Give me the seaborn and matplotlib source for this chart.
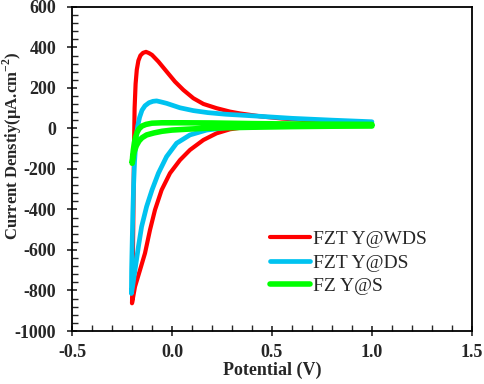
import numpy as np
import pandas as pd
import matplotlib.pyplot as plt
from matplotlib.ticker import MultipleLocator, FuncFormatter
import seaborn as sns

sns.set_style("ticks")
plt.rcParams["font.family"] = ["Liberation Serif", "DejaVu Serif"]
plt.rcParams["axes.unicode_minus"] = False
plt.rcParams["mathtext.fontset"] = "custom"
plt.rcParams["mathtext.rm"] = "Liberation Serif"
plt.rcParams["mathtext.bf"] = "Liberation Serif:bold"

LABELS = ["FZT Y@WDS", "FZT Y@DS", "FZ Y@S"]
COLOURS = ["#FF0000", "#00C3F0", "#00FF00"]

# closed CV loops: cathodic branch (1.0 -> -0.2) then anodic branch back to 1.0
wds_potential = [1.0, 0.8, 0.6, 0.45, 0.34, 0.29, 0.223, 0.157, 0.09, 0.04, -0.01, -0.052, -0.085,
                 -0.11, -0.135, -0.16, -0.185, -0.20,
                 -0.198, -0.196, -0.194, -0.192, -0.19, -0.187, -0.182, -0.176, -0.168, -0.158,
                 -0.145, -0.13, -0.115, -0.10, -0.068, -0.027, 0.015, 0.057, 0.107, 0.157, 0.223,
                 0.29, 0.34, 0.44, 0.55, 0.7, 0.85, 1.0]
wds_current = [16, 14, 12, 8, 3, -4, -24, -57, -106, -156, -221, -304, -402,
               -501, -616, -699, -781, -863,
               -780, -650, -500, -300, -100, 100, 220, 290, 335, 360,
               373, 378, 372, 363, 330, 281, 231, 190, 149, 121, 100,
               83, 74, 60, 49, 39, 32, 27]

ds_potential = [1.0, 0.8, 0.6, 0.4, 0.273, 0.173, 0.09, 0.023, -0.027, -0.068, -0.10, -0.127,
                -0.152, -0.168, -0.185, -0.197, -0.203,
                -0.202, -0.199, -0.196, -0.192, -0.187, -0.18, -0.172, -0.162, -0.15, -0.135,
                -0.115, -0.095, -0.077, -0.055, -0.027, 0.04, 0.107, 0.18, 0.27, 0.34, 0.44,
                0.6, 0.8, 1.0]
ds_current = [18, 15, 12, 8, 4, -8, -32, -73, -139, -221, -304, -386,
              -485, -584, -699, -780, -815,
              -700, -560, -420, -280, -160, -60, 10, 55, 90, 112,
              127, 134, 136, 131, 124, 102, 88, 78, 70, 66, 60,
              50, 41, 33]

s_potential = [1.0, 0.8, 0.6, 0.4, 0.25, 0.15, 0.07, 0.0, -0.05, -0.09, -0.127, -0.15, -0.165,
               -0.178, -0.188, -0.195, -0.199,
               -0.197, -0.193, -0.188, -0.182, -0.175, -0.165, -0.15, -0.13, -0.1, -0.05, 0.05,
               0.2, 0.4, 0.6, 0.8, 1.0]
s_current = [12, 11, 9, 6, 3, 0, -4, -8, -14, -22, -32, -46, -62,
             -85, -112, -140, -172,
             -140, -105, -70, -42, -20, -2, 12, 20, 26, 28, 28,
             27, 24, 22, 21, 20]

frames = []
for name, pot, cur in zip(LABELS, [wds_potential, ds_potential, s_potential],
                          [wds_current, ds_current, s_current]):
    frames.append(pd.DataFrame({"Potential": pot, "Current": cur, "Sample": name}))
df = pd.concat(frames, ignore_index=True)

fig = plt.figure(figsize=(4.84, 3.84), dpi=100)
ax = fig.add_axes([0.1488, 0.138, 0.8262, 0.844])

for name, col, lw in zip(LABELS, COLOURS, [3.0, 3.4, 4.0]):
    sub = df[df["Sample"] == name]
    sns.lineplot(data=sub, x="Potential", y="Current", sort=False, estimator=None,
                 color=col, lw=lw, label=name, ax=ax, solid_joinstyle="round")

ax.set_xlim(-0.5, 1.5)
ax.set_ylim(-1000, 600)
ax.xaxis.set_major_locator(MultipleLocator(0.5))
ax.xaxis.set_minor_locator(MultipleLocator(0.1))
ax.yaxis.set_major_locator(MultipleLocator(200))
ax.yaxis.set_minor_locator(MultipleLocator(40))
ax.xaxis.set_major_formatter(FuncFormatter(lambda v, p: f"{v:.1f}"))
ax.yaxis.set_major_formatter(FuncFormatter(lambda v, p: f"{v:.0f}"))
ax.tick_params(which="major", direction="inout", length=7, width=1.2, labelsize=13)
ax.tick_params(which="minor", direction="in", length=4, width=1.0)
ax.tick_params(axis="x", which="major", pad=6)
ax.tick_params(axis="y", which="major", pad=8)
for lab in ax.get_xticklabels() + ax.get_yticklabels():
    lab.set_fontweight("bold")
for sp in ax.spines.values():
    sp.set_linewidth(1.3)
    sp.set_color("black")

ax.set_xlabel("Potential (V)", fontsize=13, fontweight="bold", labelpad=0)
ax.set_ylabel("Current Denstiy(μA.cm$^{\\mathbf{-2}}$)", fontsize=12, fontweight="bold")
ax.yaxis.set_label_coords(-0.12, 0.57)

ax.legend(loc="upper left", bbox_to_anchor=(0.495, 0.31), frameon=False, fontsize=14,
          handlelength=2.05, handletextpad=0.15, labelspacing=0.3, borderaxespad=0, borderpad=0)

plt.savefig("out.png", dpi=100)
